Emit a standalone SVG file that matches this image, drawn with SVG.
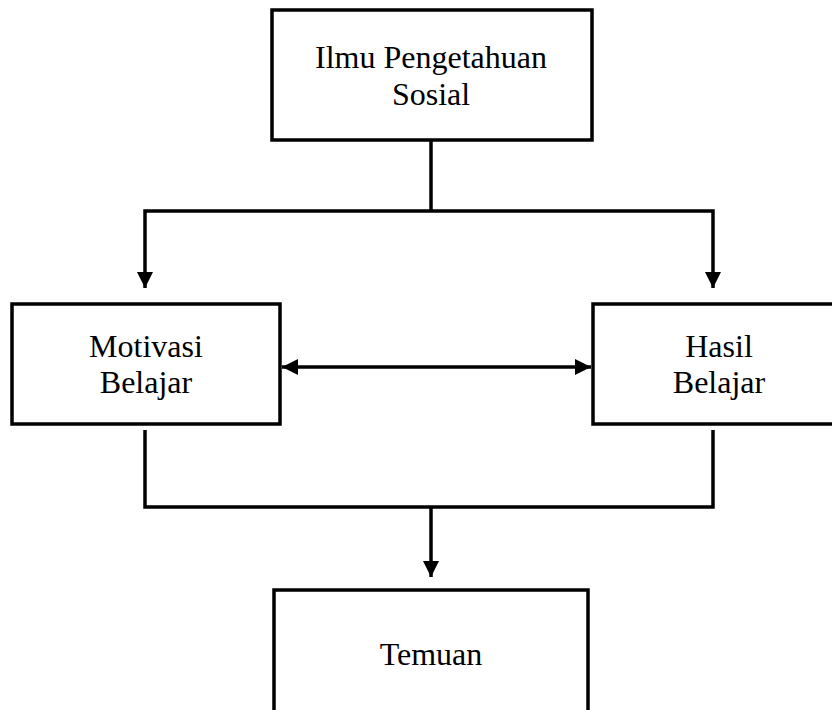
<svg xmlns="http://www.w3.org/2000/svg" width="832" height="710" viewBox="0 0 832 710">
<style>
.box{fill:#fff;stroke:#000;stroke-width:3.5}
.lbl{font-family:"Liberation Serif","Times New Roman",serif;font-size:32px;fill:#000;text-anchor:middle}
.ln{fill:none;stroke:#000;stroke-width:3.5}
</style>
<defs>
<marker id="ah" viewBox="0 0 10 10" refX="10" refY="5" markerWidth="4.6" markerHeight="4.6" markerUnits="strokeWidth" orient="auto-start-reverse">
<path d="M0,0 L10,5 L0,10 Z" fill="#000"/>
</marker>
</defs>
<rect width="832" height="710" fill="#fff"/>
<g id="connectors">
<path class="ln" d="M431,140 V211"/>
<path class="ln" d="M145,288 V211 H713 V288" marker-start="url(#ah)" marker-end="url(#ah)"/>
<path class="ln" d="M282,367 H591" marker-start="url(#ah)" marker-end="url(#ah)"/>
<path class="ln" d="M145,430 V507 H713 V430"/>
<path class="ln" d="M431,507 V577" marker-end="url(#ah)"/>
</g>
<g id="ips">
<rect class="box" x="272" y="10" width="320" height="130"/>
<text class="lbl" x="431" y="68">Ilmu Pengetahuan</text>
<text class="lbl" x="431" y="105">Sosial</text>
</g>
<g id="motivasi">
<rect class="box" x="12" y="304" width="268" height="120"/>
<text class="lbl" x="146" y="357">Motivasi</text>
<text class="lbl" x="146" y="393">Belajar</text>
</g>
<g id="hasil">
<rect class="box" x="593" y="304" width="252" height="120"/>
<text class="lbl" x="719" y="357">Hasil</text>
<text class="lbl" x="719" y="393">Belajar</text>
</g>
<g id="temuan">
<rect class="box" x="274" y="590" width="314" height="140"/>
<text class="lbl" x="431" y="665">Temuan</text>
</g>
</svg>
